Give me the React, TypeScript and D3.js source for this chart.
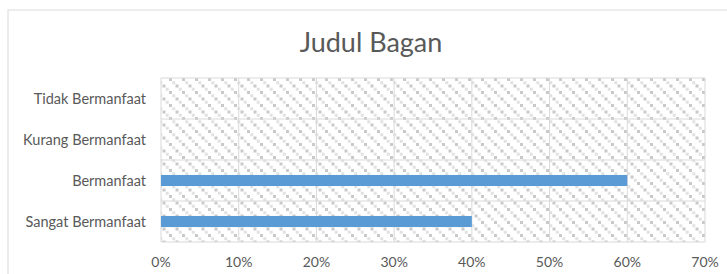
import * as d3 from 'd3';
import { type FC } from 'react';

const categories: string[] = [
  'Tidak Bermanfaat',
  'Kurang Bermanfaat',
  'Bermanfaat',
  'Sangat Bermanfaat',
];
const values: number[] = [0, 0, 0.6, 0.4];
const ticks: number[] = [0, 0.1, 0.2, 0.3, 0.4, 0.5, 0.6, 0.7];
const title = 'Judul Bagan';

const width = 727;
const height = 274;
const marginTop = 78;
const marginRight = 22;
const marginBottom = 32;
const marginLeft = 161;
const textColor = '#595959';
const gridColor = '#d9d9d9';
const barColor = '#5b9bd5';
const font = 'Lato, "Open Sans", sans-serif';

const App: FC = () => {
  const x = d3.scaleLinear([0, 0.7], [marginLeft, width - marginRight]);
  const y = d3
    .scaleBand<string>()
    .domain(categories)
    .range([marginTop, height - marginBottom])
    .paddingInner(0.73)
    .paddingOuter(0.365);
  const rows = d3.scaleBand<string>().domain(categories).range([marginTop, height - marginBottom]);
  const fmt = d3.format('.0%');

  return (
    <svg
      width={width}
      height={height}
      viewBox={`0 0 ${width} ${height}`}
      style={{ position: 'absolute', left: 0, top: 0, background: '#fff' }}
      fontFamily={font}
    >
      <defs>
        <pattern id='dots' patternUnits='userSpaceOnUse' width={13} height={13}>
          <rect width={13} height={13} fill='#fff' />
          <rect x={0} y={0} width={3} height={3} fill='#c9c9c9' />
          <rect x={3.25} y={3.25} width={3} height={3} fill='#e2e2e2' />
          <rect x={6.5} y={6.5} width={3} height={3} fill='#c9c9c9' />
          <rect x={9.75} y={9.75} width={3} height={3} fill='#e2e2e2' />
        </pattern>
      </defs>
      <rect x={8} y={10} width={740} height={300} fill='#fff' stroke={gridColor} strokeWidth={1} />
      <text x={371} y={52} textAnchor='middle' fontSize={27} fill={textColor}>
        {title}
      </text>
      <rect
        x={x(0)}
        y={marginTop}
        width={x(0.7) - x(0)}
        height={height - marginBottom - marginTop}
        fill='url(#dots)'
      />
      <g stroke={gridColor} strokeWidth={1}>
        {ticks.map((t) => (
          <line key={t} x1={x(t)} x2={x(t)} y1={marginTop} y2={height - marginBottom} />
        ))}
        {categories.map((c) => (
          <line key={c} x1={x(0)} x2={x(0.7)} y1={rows(c)!} y2={rows(c)!} />
        ))}
        <line x1={x(0)} x2={x(0.7)} y1={height - marginBottom} y2={height - marginBottom} />
      </g>
      <g fill={barColor}>
        {categories.map((c, i) => (
          <rect key={c} x={x(0)} y={y(c)} width={x(values[i]) - x(0)} height={y.bandwidth()} />
        ))}
      </g>
      <g fill={textColor} fontSize={14.5} textAnchor='end'>
        {categories.map((c) => (
          <text key={c} x={marginLeft - 15} y={rows(c)! + rows.bandwidth() / 2} dy='0.35em'>
            {c}
          </text>
        ))}
      </g>
      <g fill={textColor} fontSize={14} textAnchor='middle'>
        {ticks.map((t) => (
          <text key={t} x={x(t)} y={267}>
            {fmt(t)}
          </text>
        ))}
      </g>
    </svg>
  );
};

export default App;
